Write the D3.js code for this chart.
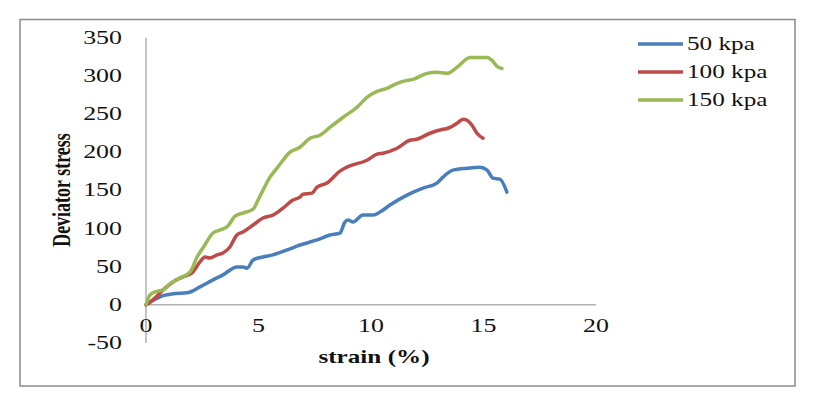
<html>
  <head>
    <meta charset="UTF-8">
    <style>
      body { margin: 0; background: #fff; }
      text { font-family: "Liberation Serif", "Times New Roman", serif; fill: #111; }
    </style>
  </head>
  <body>
    <script src="https://d3js.org/d3.v7.min.js"></script>
    <script>

// series (strain %, deviator stress)
var strain50 = [0, 0.62, 1.2, 1.82, 2.4, 2.98, 3.42, 4.04, 4.31, 4.49, 4.76, 5.2, 5.64, 6.27, 6.84, 7.6, 8.18, 8.62, 8.84, 8.98, 9.2, 9.64, 10.09, 10.4, 10.84, 11.6, 12.31, 12.93, 13.2, 13.64, 14.27, 14.84, 15.16, 15.42, 15.73, 16.04];
var stress50 = [0, 10.5, 14.4, 15.7, 23.5, 32.7, 39.2, 49.7, 49.7, 48, 58.8, 62.7, 65.4, 71.9, 78.4, 85, 91.5, 94, 108.5, 111, 108.5, 117.6, 117.6, 121.6, 130.7, 143.8, 152.9, 159.5, 167.3, 176.5, 179, 180.4, 176.5, 166, 164.7, 147.7];

var strain100 = [0, 0.31, 0.76, 1.2, 1.64, 2.04, 2.4, 2.62, 2.84, 3.16, 3.42, 3.73, 4.04, 4.31, 4.76, 5.2, 5.64, 6.09, 6.53, 6.84, 6.98, 7.38, 7.6, 8.04, 8.62, 8.93, 9.82, 10.27, 10.53, 11.16, 11.73, 12.04, 12.62, 13.2, 13.42, 13.82, 14.09, 14.27, 14.49, 14.71, 14.98];
var stress100 = [0, 6.5, 19.6, 30, 36.6, 41.8, 56.2, 62.7, 61.4, 65.4, 68, 75.8, 91.5, 95.4, 104.6, 113.7, 117.6, 126.8, 137.3, 141.2, 145, 146.4, 154.2, 159.5, 175.2, 180.4, 189.5, 197.4, 198.7, 205.2, 215.7, 217, 224.8, 230, 231.4, 237.9, 243.1, 241.8, 235.3, 224.8, 218.3];

var strain150 = [0, 0.18, 0.4, 0.76, 1.07, 1.42, 1.96, 2.27, 2.53, 2.98, 3.29, 3.64, 3.96, 4.31, 4.76, 4.98, 5.2, 5.51, 5.82, 6.09, 6.4, 6.84, 7.29, 7.73, 8.18, 8.76, 9.38, 9.82, 10.27, 10.71, 11.16, 11.6, 11.87, 12.49, 12.93, 13.38, 13.82, 14.4, 15.16, 15.38, 15.6, 15.82];
var stress150 = [0, 13, 17, 19.6, 27.5, 34, 43.1, 62.7, 74.5, 94.1, 98, 103.3, 116.3, 120.3, 125.5, 137.3, 150.3, 167.3, 179, 189.5, 200, 206.5, 218.3, 222.2, 232.7, 245.8, 258.8, 271.9, 279.7, 283.7, 290.2, 294.1, 295.4, 303.3, 304.6, 303.3, 311.1, 324.2, 324.2, 320.3, 312.4, 309.8];

var seriesNames = ["50 kpa", "100 kpa", "150 kpa"];
var seriesColors = ["#4a7ebb", "#be4b48", "#98b954"];
var xTicks = [0, 5, 10, 15, 20];
var yTicks = [-50, 0, 50, 100, 150, 200, 250, 300, 350];

var series = [
    { name: seriesNames[0], color: seriesColors[0], x: strain50, y: stress50 },
    { name: seriesNames[1], color: seriesColors[1], x: strain100, y: stress100 },
    { name: seriesNames[2], color: seriesColors[2], x: strain150, y: stress150 }
];

var width = 814, height = 394;
var sx = 1.4; // the picture's text is stretched sideways

var svg = d3.select("body").append("svg")
    .attr("width", width).attr("height", height);

// frame
svg.append("rect")
    .attr("x", 20).attr("y", 19.5)
    .attr("width", 775).attr("height", 366.5)
    .style("fill", "none")
    .style("stroke", "#8a8a8a")
    .style("stroke-width", 1.5);

var x = d3.scaleLinear().domain([0, 20]).range([146, 596]);
var y = d3.scaleLinear().domain([-50, 350]).range([343, 37.7]);

// axes lines
svg.append("line")
    .attr("x1", x(0)).attr("x2", x(0))
    .attr("y1", y(350)).attr("y2", y(-50))
    .style("stroke", "#8a8a8a").style("stroke-width", 1);
svg.append("line")
    .attr("x1", x(0)).attr("x2", x(20))
    .attr("y1", y(0)).attr("y2", y(0))
    .style("stroke", "#8a8a8a").style("stroke-width", 1);

// tick labels
svg.selectAll(".ylab").data(yTicks).enter().append("text")
    .attr("class", "ylab")
    .attr("transform", function(d) { return "translate(122," + (y(d) + 6) + ") scale(" + sx + ",1)"; })
    .attr("text-anchor", "end")
    .style("font-size", "18.5px")
    .text(function(d) { return d; });

svg.selectAll(".xlab").data(xTicks).enter().append("text")
    .attr("class", "xlab")
    .attr("transform", function(d) { return "translate(" + x(d) + ",332) scale(" + sx + ",1)"; })
    .attr("text-anchor", "middle")
    .style("font-size", "18.5px")
    .text(function(d) { return d; });

// axis titles
svg.append("text")
    .attr("transform", "translate(374,363) scale(" + sx + ",1)")
    .attr("text-anchor", "middle")
    .style("font-size", "18px")
    .style("font-weight", "bold")
    .text("strain (%)");

svg.append("text")
    .attr("transform", "translate(70,190) scale(" + sx + ",1) rotate(-90)")
    .attr("text-anchor", "middle")
    .style("font-size", "18px")
    .style("font-weight", "bold")
    .text("Deviator stress");

// curves
var line = d3.line()
    .x(function(d) { return x(d[0]); })
    .y(function(d) { return y(d[1]); })
    .curve(d3.curveMonotoneX);

svg.selectAll(".curve").data(series).enter().append("path")
    .attr("class", "curve")
    .attr("d", function(s) { return line(d3.zip(s.x, s.y)); })
    .style("fill", "none")
    .style("stroke", function(s) { return s.color; })
    .style("stroke-width", 3.5)
    .style("stroke-linejoin", "round")
    .style("stroke-linecap", "round");

// legend
var legend = svg.selectAll(".legend").data(series).enter().append("g")
    .attr("class", "legend")
    .attr("transform", function(s, i) { return "translate(638," + (44 + i * 28) + ")"; });

legend.append("line")
    .attr("x1", 0).attr("x2", 45)
    .style("stroke", function(s) { return s.color; })
    .style("stroke-width", 3.5);

legend.append("text")
    .attr("transform", "translate(49,6) scale(" + sx + ",1)")
    .style("font-size", "18px")
    .text(function(s) { return s.name; });

    </script>
  </body>
</html>
